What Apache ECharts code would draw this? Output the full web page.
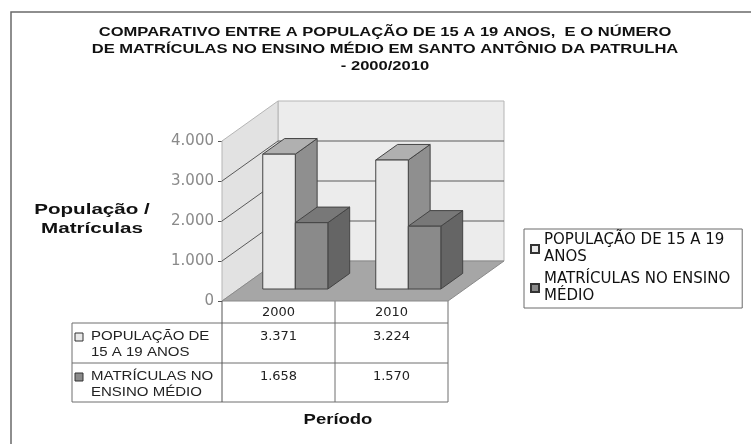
<!DOCTYPE html>
<html><head><meta charset="utf-8">
<script src="https://cdn.jsdelivr.net/npm/echarts@6/dist/echarts.min.js"></script>
<style>html,body{margin:0;padding:0;background:#fff}#c{width:751px;height:444px}</style>
</head><body><div id="c"></div>
<script>
// ---- data ----
const categories = ['2000', '2010'];
const seriesNames = ['POPULAÇÃO DE 15 A 19 ANOS', 'MATRÍCULAS NO ENSINO MÉDIO'];
const populacao = [3371, 3224];
const matriculas = [1658, 1570];
const yTicks = [0, 1000, 2000, 3000, 4000];
const legendLabels = ['POPULAÇÃO DE 15 A 19\nANOS', 'MATRÍCULAS NO ENSINO\nMÉDIO'];
const tableRowLabels = [['POPULAÇÃO DE', '15 A 19 ANOS'], ['MATRÍCULAS NO', 'ENSINO MÉDIO']];
const titleLines = ['COMPARATIVO ENTRE A POPULAÇÃO DE 15 A 19 ANOS,  E O NÚMERO',
  'DE MATRÍCULAS NO ENSINO MÉDIO EM SANTO ANTÔNIO DA PATRULHA', '- 2000/2010'];
const yAxisNameLines = ['População /', 'Matrículas'];
const xAxisName = 'Período';

// ---- layout / style ----
const GRID_L = 222, GRID_R = 448, GRID_T = 141, GRID_B = 301;
const DX = 56, DY = -40;           // full depth offset of the 3D box
const F0 = 0.30, F1 = 0.69;         // bar depth range
const BAR_FRAC = 0.288;             // bar width as share of band
const ROW_Y = [323, 363, 402];
const TABLE_L = 72;
const STRETCH = 1.38;
const barColors = [
  {front: '#e9e9e9', top: '#b0b0b0', side: '#8f8f8f'},
  {front: '#8a8a8a', top: '#787878', side: '#656565'}
];
const seriesValues = [populacao, matriculas];
const fmt = v => String(v).replace(/\B(?=(\d{3})+(?!\d))/g, '.');

const chart = echarts.init(document.getElementById('c'));

function wallsRender(params, api) {
  const cs = params.coordSys;
  const x0 = cs.x, x1 = cs.x + cs.width;
  const y0 = api.coord([0, yTicks[0]])[1];
  const yt = api.coord([0, yTicks[yTicks.length - 1]])[1];
  const ch = [];
  ch.push({type: 'polygon', shape: {points: [[x0 + DX, yt + DY], [x1 + DX, yt + DY], [x1 + DX, y0 + DY], [x0 + DX, y0 + DY]]},
    style: {fill: '#ececec', stroke: '#b5b5b5', lineWidth: 1}});
  ch.push({type: 'polygon', shape: {points: [[x0, y0], [x0, yt], [x0 + DX, yt + DY], [x0 + DX, y0 + DY]]},
    style: {fill: '#e2e2e2', stroke: '#b5b5b5', lineWidth: 1}});
  ch.push({type: 'polygon', shape: {points: [[x0, y0], [x1, y0], [x1 + DX, y0 + DY], [x0 + DX, y0 + DY]]},
    style: {fill: '#a6a6a6', stroke: '#8a8a8a', lineWidth: 1}});
  yTicks.slice(1, -1).forEach(v => {
    const y = api.coord([0, v])[1];
    ch.push({type: 'line', shape: {x1: x0 + DX, y1: y + DY, x2: x1 + DX, y2: y + DY}, style: {stroke: '#5a5a5a', lineWidth: 1}});
    ch.push({type: 'line', shape: {x1: x0, y1: y, x2: x0 + DX, y2: y + DY}, style: {stroke: '#5a5a5a', lineWidth: 1}});
  });
  return {type: 'group', children: ch};
}

function barRender(s) {
  return function (params, api) {
    const cat = api.value(0), v = api.value(1);
    const p0 = api.coord([cat, 0]);
    const p1 = api.coord([cat, v]);
    const band = api.size([1, 0])[0];
    const w = band * BAR_FRAC;
    const fx = DX * F0, fy = DY * F0;
    const ddx = DX * (F1 - F0), ddy = DY * (F1 - F0);
    const xl = p0[0] - w + s * w + fx, xr = xl + w;
    const yb = p0[1] + fy, yt = p1[1] + fy;
    const c = barColors[s];
    const st = {stroke: '#444', lineWidth: 1};
    return {type: 'group', children: [
      {type: 'polygon', shape: {points: [[xr, yt], [xr + ddx, yt + ddy], [xr + ddx, yb + ddy], [xr, yb]]}, style: Object.assign({fill: c.side}, st)},
      {type: 'polygon', shape: {points: [[xl, yt], [xr, yt], [xr + ddx, yt + ddy], [xl + ddx, yt + ddy]]}, style: Object.assign({fill: c.top}, st)},
      {type: 'rect', shape: {x: xl, y: yt, width: w, height: yb - yt}, style: Object.assign({fill: c.front}, st)}
    ]};
  };
}

// ---- graphic: border, titles, table ----
const g = [];
g.push({type: 'rect', shape: {x: 11, y: 12, width: 760, height: 460}, style: {fill: 'none', stroke: '#6a6a6a', lineWidth: 1.5}, z: 0});
titleLines.forEach((t, i) => g.push({type: 'text', x: 385, y: 33 + i * 17, scaleX: STRETCH,
  style: {text: t, fontFamily: 'Liberation Sans', fontWeight: 'bold', fontSize: 12, fill: '#111', align: 'center', verticalAlign: 'middle'}}));
yAxisNameLines.forEach((t, i) => g.push({type: 'text', x: 92, y: 210 + i * 19, scaleX: 1.42,
  style: {text: t, fontFamily: 'Liberation Sans', fontWeight: 'bold', fontSize: 14.5, fill: '#111', align: 'center', verticalAlign: 'middle'}}));
g.push({type: 'text', x: 338, y: 420, scaleX: 1.32,
  style: {text: xAxisName, fontFamily: 'Liberation Sans', fontWeight: 'bold', fontSize: 14, fill: '#111', align: 'center', verticalAlign: 'middle'}});
// table lines
const lineSt = {stroke: '#6e6e6e', lineWidth: 1};
ROW_Y.forEach(y => g.push({type: 'line', shape: {x1: TABLE_L, y1: y, x2: GRID_R, y2: y}, style: lineSt}));
g.push({type: 'line', shape: {x1: TABLE_L, y1: ROW_Y[0], x2: TABLE_L, y2: ROW_Y[2]}, style: lineSt});
const colW = (GRID_R - GRID_L) / categories.length;
for (let c = 0; c <= categories.length; c++) {
  const x = GRID_L + c * colW;
  g.push({type: 'line', shape: {x1: x, y1: GRID_B, x2: x, y2: ROW_Y[2]}, style: {stroke: c === 0 ? '#555' : '#6e6e6e', lineWidth: 1}});
}
seriesValues.forEach((vals, r) => {
  const yTop = ROW_Y[r] + 14;
  vals.forEach((v, c) => g.push({type: 'text', x: GRID_L + (c + 0.5) * colW, y: yTop,
    style: {text: fmt(v), fontFamily: 'DejaVu Sans', fontSize: 13, fill: '#222', align: 'center', verticalAlign: 'middle'}}));
  g.push({type: 'rect', shape: {x: 75, y: yTop - 4, width: 8, height: 8},
    style: {fill: barColors[r].front, stroke: '#333', lineWidth: 1}});
  tableRowLabels[r].forEach((t, k) => g.push({type: 'text', x: 91, y: yTop + k * 16, scaleX: 1.25,
    style: {text: t, fontFamily: 'Liberation Sans', fontSize: 12, fill: '#222', align: 'left', verticalAlign: 'middle'}}));
});

chart.setOption({
  backgroundColor: '#ffffff',
  animation: false,
  grid: {left: GRID_L, top: GRID_T, width: GRID_R - GRID_L, height: GRID_B - GRID_T},
  xAxis: {type: 'category', data: categories, axisLine: {show: false}, axisTick: {show: false},
    axisLabel: {margin: 5, fontFamily: 'DejaVu Sans', fontSize: 13, color: '#222'}, splitLine: {show: false}},
  yAxis: {type: 'value', min: yTicks[0], max: yTicks[yTicks.length - 1], interval: 1000,
    axisLine: {show: true, lineStyle: {color: '#555', width: 1}},
    axisTick: {show: true, length: 4, lineStyle: {color: '#555'}},
    axisLabel: {margin: 8, fontFamily: 'DejaVu Sans', fontSize: 15, color: '#8a8a8a', formatter: fmt},
    splitLine: {show: false}},
  legend: {
    data: seriesNames, orient: 'vertical', left: 524, top: 229,
    padding: [3, 12, 3, 6], itemGap: 5, itemWidth: 8, itemHeight: 8, icon: 'rect',
    borderColor: '#6a6a6a', borderWidth: 1, borderRadius: 0,
    formatter: name => legendLabels[seriesNames.indexOf(name)],
    textStyle: {fontFamily: 'DejaVu Sans', fontSize: 15, color: '#111', lineHeight: 17}
  },
  graphic: g,
  series: [
    {type: 'custom', name: 'walls', renderItem: wallsRender, data: [[0, 0]], silent: true, z: 1},
    {type: 'custom', name: seriesNames[0], renderItem: barRender(0), z: 2,
      itemStyle: {color: barColors[0].front, borderColor: '#333', borderWidth: 1},
      encode: {x: 0, y: 1}, data: categories.map((c, i) => [i, populacao[i]])},
    {type: 'custom', name: seriesNames[1], renderItem: barRender(1), z: 3,
      itemStyle: {color: barColors[1].front, borderColor: '#333', borderWidth: 1},
      encode: {x: 0, y: 1}, data: categories.map((c, i) => [i, matriculas[i]])}
  ]
});
</script></body></html>
